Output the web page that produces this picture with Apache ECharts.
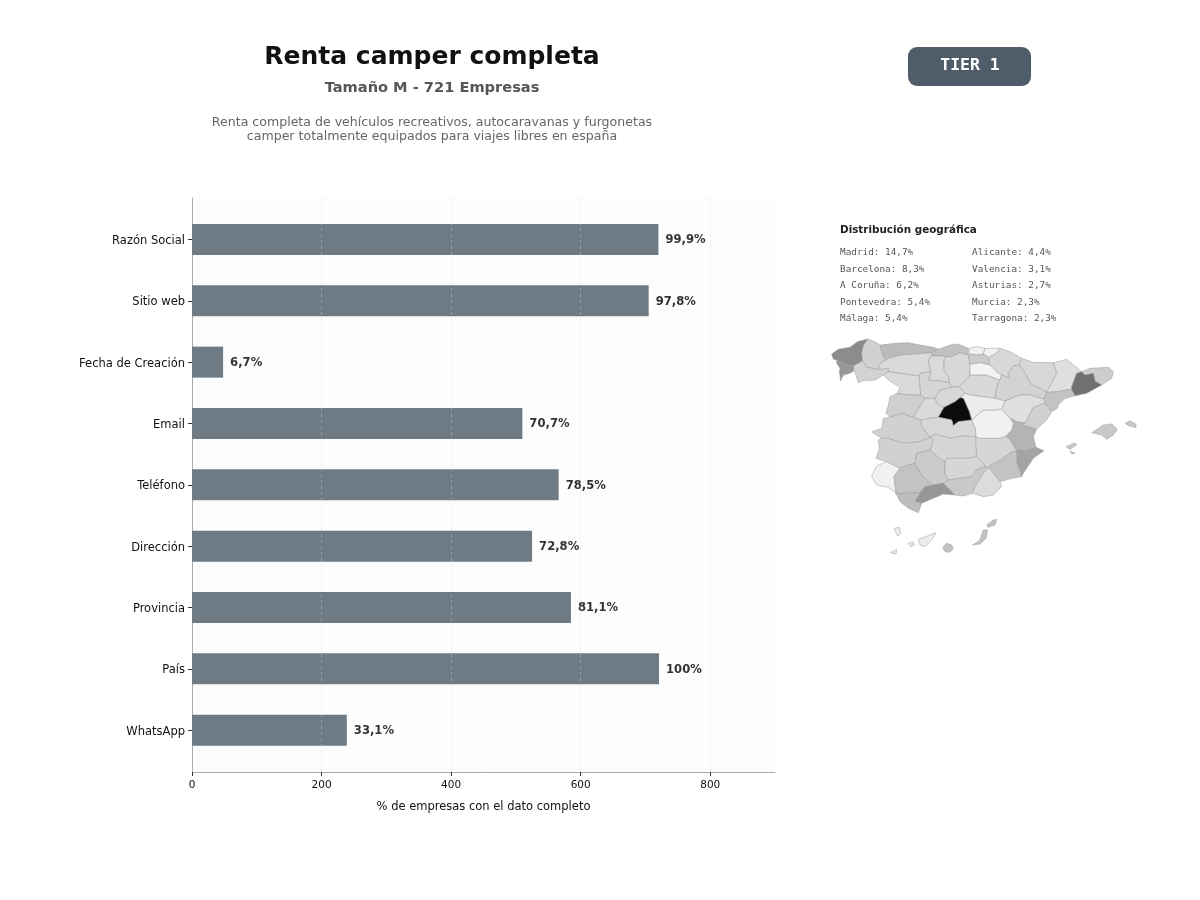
<!DOCTYPE html>
<html>
<head>
<meta charset="utf-8">
<title>Renta camper completa</title>
<script src="https://cdn.jsdelivr.net/npm/echarts@6/dist/echarts.min.js"></script>
<style>
  html, body { margin: 0; background: #fff; }
  #main { width: 1200px; height: 900px; }
</style>
</head>
<body>
<div id="main"></div>
<script>
var fieldNames = ['Razón Social', 'Sitio web', 'Fecha de Creación', 'Email', 'Teléfono', 'Dirección', 'Provincia', 'País', 'WhatsApp'];
var fieldCounts = [720, 705, 48, 510, 566, 525, 585, 721, 239];
var fieldLabels = ['99,9%', '97,8%', '6,7%', '70,7%', '78,5%', '72,8%', '81,1%', '100%', '33,1%'];
var xTicks = [0, 200, 400, 600, 800];

var geoLeft = ['Madrid: 14,7%', 'Barcelona: 8,3%', 'A Coruña: 6,2%', 'Pontevedra: 5,4%', 'Málaga: 5,4%'];
var geoRight = ['Alicante: 4,4%', 'Valencia: 3,1%', 'Asturias: 2,7%', 'Murcia: 2,3%', 'Tarragona: 2,3%'];

var provinceNames = ['Madrid', 'Barcelona', 'A Coruña', 'Pontevedra', 'Málaga', 'Alicante', 'Valencia', 'Asturias', 'Murcia', 'Tarragona',
  'Cádiz', 'Las Palmas', 'Sevilla', 'Baleares', 'Granada', 'Cantabria', 'Salamanca', 'Córdoba', 'Badajoz', 'Castellón',
  'Cáceres', 'Jaén', 'Toledo', 'Zaragoza', 'Girona', 'Álava', 'Lugo', 'Ciudad Real', 'Ourense', 'Albacete',
  'Valladolid', 'Huesca', 'Burgos', 'Soria', 'Segovia', 'Navarra', 'Palencia', 'Almería', 'León', 'Zamora',
  'Ávila', 'Lleida', 'Teruel', 'Guadalajara', 'Santa Cruz de Tenerife', 'Cuenca', 'Huelva', 'Vizcaya', 'Gipuzkoa', 'La Rioja'];
var provinceShares = [14.7, 8.3, 6.2, 5.4, 5.4, 4.4, 3.1, 2.7, 2.3, 2.3,
  2.6, 2.4, 2.3, 2.0, 2.0, 2.4, 1.7, 1.9, 1.6, 1.6,
  1.6, 1.4, 1.3, 1.5, 1.8, 1.9, 1.6, 1.4, 1.5, 1.4,
  1.4, 1.3, 1.3, 1.3, 1.3, 1.3, 1.2, 1.1, 1.2, 1.2,
  1.2, 1.0, 1.0, 0.4, 0.4, 0.2, 0.2, 0.2, 0.2, 0.1];

// hand traced province outlines, one list of rings per province
var provinceShapes = {
  'A Coruña': [[35,72,55,58,90,52,112,35,143,27,130,48,125,70,128,93,100,108,75,103,50,90,40,88]],
  'Pontevedra': [[50,90,75,103,100,108,102,122,90,130,70,135,62,153,58,125,60,115,50,100]],
  'Lugo': [[143,27,165,35,180,45,190,80,198,90,180,100,175,118,140,112,128,93,125,70,130,48]],
  'Asturias': [[180,45,225,40,265,38,300,45,340,52,355,58,335,68,290,72,245,75,205,85,198,90,190,80]],
  'Cantabria': [[355,58,390,45,415,42,445,55,445,75,420,68,395,80,378,80,365,78,335,78,335,68]],
  'Ourense': [[100,108,128,93,140,112,175,118,205,115,205,125,190,135,165,150,130,152,115,158,108,135,102,122]],
  'León': [[198,90,205,85,245,75,290,72,335,68,335,78,325,90,332,125,300,130,298,138,240,130,205,125,205,115,175,118,180,100]],
  'Palencia': [[335,78,365,78,378,80,372,90,372,120,385,140,388,158,350,152,325,150,332,125,325,90]],
  'Burgos': [[378,80,395,80,420,68,445,75,450,103,450,135,432,155,418,170,395,172,388,158,385,140,372,120,372,90]],
  'Zamora': [[190,135,205,125,240,130,298,138,302,195,265,195,232,190,240,172,205,150]],
  'Valladolid': [[298,138,300,130,332,125,325,150,350,152,388,158,395,172,360,180,345,205,315,205,302,195]],
  'Salamanca': [[210,200,232,190,265,195,302,195,315,205,300,230,280,262,245,250,210,262,198,250,205,225]],
  'Ávila': [[315,205,345,205,352,222,372,232,355,262,330,265,302,270,280,262,300,230]],
  'Segovia': [[345,205,360,180,395,172,418,170,435,190,420,203,405,215,372,232,352,222]],
  'Soria': [[432,155,450,135,500,135,540,150,535,155,530,175,525,205,490,200,450,195,435,190,418,170]],
  'Vizcaya': [[445,55,470,50,495,55,490,72,470,75,450,72]],
  'Gipuzkoa': [[495,55,540,55,530,70,505,82,490,72]],
  'Álava': [[450,72,470,75,490,72,505,82,510,105,480,98,450,103,445,75]],
  'La Rioja': [[450,103,480,98,510,105,530,125,545,135,540,150,500,135,450,135]],
  'Navarra': [[505,82,530,70,540,55,570,65,605,85,598,105,580,108,565,130,570,145,545,135,530,125,510,105]],
  'Huesca': [[605,85,640,97,700,98,710,130,695,160,680,187,650,170,635,165,615,130,598,105]],
  'Zaragoza': [[565,130,580,108,598,105,615,130,635,165,650,170,680,187,672,208,630,195,600,195,555,213,525,205,530,175,535,155,540,150,545,135,570,145]],
  'Lleida': [[700,98,740,88,785,125,770,130,755,170,755,180,750,178,715,185,680,187,695,160,710,130]],
  'Girona': [[785,125,810,115,865,112,880,125,875,145,845,165,825,153,820,130,795,135]],
  'Barcelona': [[785,125,795,135,820,130,825,153,845,165,800,190,765,197,755,180,755,170,770,130]],
  'Tarragona': [[755,180,765,197,735,205,715,225,712,235,695,245,675,220,672,208,680,187,715,185,750,178]],
  'Teruel': [[555,213,600,195,630,195,672,208,675,220,660,225,640,232,615,280,590,275,570,265,545,238]],
  'Castellón': [[640,232,660,225,675,220,695,245,680,270,650,298,625,290,605,285,615,280]],
  'Valencia': [[570,265,590,275,615,280,605,285,625,290,650,298,640,320,648,352,620,362,590,362,570,330,558,318,575,300,580,280]],
  'Alicante': [[590,362,620,362,648,352,672,362,640,385,610,430,605,440,590,395,590,372]],
  'Murcia': [[510,405,540,390,575,365,590,362,590,372,590,395,605,440,575,445,540,455,520,430,505,412]],
  'Albacete': [[467,320,480,325,540,325,558,318,570,330,590,362,575,365,540,390,510,405,505,412,495,410,490,400,470,380,467,340]],
  'Cuenca': [[455,270,490,240,520,240,545,238,570,265,580,280,575,300,558,318,540,325,480,325,467,320,467,300]],
  'Guadalajara': [[435,190,450,195,490,200,525,205,555,213,545,238,520,240,490,240,455,270,448,245,430,205,420,203]],
  'Madrid': [[420,203,430,205,448,245,455,270,440,272,415,275,400,287,395,270,355,262,372,232,405,215]],
  'Toledo': [[302,270,330,265,355,262,395,270,400,287,415,275,440,272,455,270,467,300,467,320,430,318,390,325,345,312,330,322,305,290]],
  'Ciudad Real': [[345,312,390,325,430,318,467,320,467,340,470,380,440,385,380,385,375,395,355,382,330,360,340,330,330,322]],
  'Cáceres': [[190,265,210,262,245,250,280,262,302,270,305,290,330,322,300,335,250,340,205,325,185,325,155,305,185,295]],
  'Badajoz': [[175,330,185,325,205,325,250,340,300,335,330,322,340,330,330,360,290,370,285,400,265,405,240,415,200,395,168,385,178,355]],
  'Huelva': [[170,408,200,395,240,415,222,440,228,490,205,472,170,465,155,440]],
  'Sevilla': [[240,415,265,405,285,400,305,437,340,465,315,470,300,488,260,490,228,490,222,440]],
  'Córdoba': [[290,370,330,360,355,382,375,395,375,430,385,450,370,460,340,465,305,437,285,400]],
  'Jaén': [[375,395,380,385,440,385,470,380,490,400,495,410,470,420,455,440,420,445,385,450,375,430]],
  'Granada': [[385,450,420,445,455,440,470,420,495,410,505,412,490,430,465,470,458,490,430,498,405,495,370,460]],
  'Almería': [[505,412,520,430,540,455,545,470,520,495,490,500,458,490,465,470,490,430]],
  'Málaga': [[315,470,340,465,370,460,405,495,370,492,340,505,305,520,285,515,300,488]],
  'Cádiz': [[228,490,260,490,300,488,285,515,305,520,295,548,265,535,240,515]],
  'Baleares': [[815,308,850,285,875,282,892,298,880,315,860,328,845,315], [915,280,930,272,948,283,948,293,925,287], [738,350,765,338,770,345,750,358], [750,362,765,370,755,372]],
  'Santa Cruz de Tenerife': [[222,595,238,592,242,610,233,618], [212,668,230,658,228,672], [265,640,278,635,283,645,272,650], [295,628,348,608,335,630,315,650,300,645]],
  'Las Palmas': [[368,652,380,640,395,645,400,655,390,667,375,665], [458,645,480,630,490,600,503,600,498,625,480,642], [500,585,520,570,530,568,525,585,505,592]]
};

function buildGeoJson() {
  var features = [];
  Object.keys(provinceShapes).forEach(function (name) {
    var polys = provinceShapes[name].map(function (flat) {
      var ring = [];
      for (var i = 0; i < flat.length; i += 2) ring.push([flat[i], -flat[i + 1]]);
      ring.push(ring[0]);
      return [ring];
    });
    features.push({ type: 'Feature', properties: { name: name }, geometry: { type: 'MultiPolygon', coordinates: polys } });
  });
  return { type: 'FeatureCollection', features: features };
}
echarts.registerMap('spain', buildGeoJson());

var font = 'DejaVu Sans';
var myChart = echarts.init(document.getElementById('main'), null, { renderer: 'canvas' });

function geoColumn(lines, x) {
  return lines.map(function (t, i) {
    return {
      type: 'text', x: x, y: 253 + i * 16.4,
      style: { text: t, font: '9.35px "DejaVu Sans Mono"', fill: '#555', textVerticalAlign: 'middle' }
    };
  });
}

myChart.setOption({
  backgroundColor: '#fff',
  animation: false,
  title: [
    { text: 'Renta camper completa', left: 432, top: 45, padding: 0, textAlign: 'center',
      textStyle: { fontFamily: font, fontSize: 25, fontWeight: 'bold', color: '#111' } },
    { text: 'Tamaño M - 721 Empresas', left: 432, top: 80.5, padding: 0, textAlign: 'center',
      textStyle: { fontFamily: font, fontSize: 14.6, fontWeight: 'bold', color: '#555' } },
    { text: 'Renta completa de vehículos recreativos, autocaravanas y furgonetas\ncamper totalmente equipados para viajes libres en españa', left: 432, top: 116, padding: 0, textAlign: 'center',
      textStyle: { fontFamily: font, fontSize: 12.57, fontWeight: 'normal', color: '#666', lineHeight: 14 } }
  ],
  grid: [
    { left: 192, top: 198, width: 583, height: 574, show: true, backgroundColor: '#fdfdfd', borderWidth: 0 },
    { left: 192, top: 208.8, width: 583, height: 552 },
    // same rows as the bars, a little lower: the tick labels sit just under the tick marks
    { left: 192, top: 210.3, width: 583, height: 552 }
  ],
  xAxis: [
    {
      type: 'value', gridIndex: 0, min: 0, max: 900, z: 5,
      name: '% de empresas con el dato completo', nameLocation: 'middle', nameGap: 29,
      nameTextStyle: { fontFamily: font, fontSize: 11.5, color: '#111' },
      axisLine: { show: true, onZero: false, lineStyle: { color: '#aaa', width: 1 } },
      axisTick: { show: true, length: 4, lineStyle: { color: '#333' }, customValues: xTicks },
      axisLabel: { fontFamily: font, fontSize: 10.5, color: '#111', margin: 8, customValues: xTicks },
      splitLine: { show: true, showMinLine: false, lineStyle: { color: 'rgba(205,210,215,0.4)', type: [3, 3], width: 1 } }
    },
    { type: 'value', gridIndex: 1, min: 0, max: 900, show: false },
    { type: 'value', gridIndex: 2, min: 0, max: 900, show: false }
  ],
  yAxis: [
    {
      type: 'value', gridIndex: 0, min: 0, max: 1,
      axisLine: { show: true, onZero: false, lineStyle: { color: '#aaa', width: 1 } },
      axisTick: { show: false }, axisLabel: { show: false }, splitLine: { show: false }
    },
    {
      type: 'category', gridIndex: 1, inverse: true, data: fieldNames,
      axisLine: { show: false },
      axisTick: { show: true, alignWithLabel: true, length: 4, lineStyle: { color: '#333' } },
      axisLabel: { show: false }
    },
    {
      type: 'category', gridIndex: 2, inverse: true, data: fieldNames,
      axisLine: { show: false }, axisTick: { show: false },
      axisLabel: { fontFamily: font, fontSize: 11.5, color: '#111', margin: 7 }
    }
  ],
  visualMap: {
    show: false, seriesIndex: 1, min: 0, max: 14.7,
    inRange: { color: ['#f5f5f5', '#d4d4d4', '#b6b6b6', '#a4a4a4', '#909090', '#7c7c7c', '#6a6a6a', '#525252', '#3c3c3c', '#242424', '#0c0c0c'] }
  },
  series: [
    {
      type: 'bar', xAxisIndex: 1, yAxisIndex: 1, data: fieldCounts, barWidth: 31,
      itemStyle: { color: '#6e7b85' },
      label: {
        show: true, position: 'right', distance: 7, offset: [0, 1],
        fontFamily: font, fontSize: 11.6, fontWeight: 'bold', color: '#333',
        formatter: function (p) { return fieldLabels[p.dataIndex]; }
      }
    },
    {
      type: 'map', map: 'spain', silent: true, aspectScale: 1, roam: false,
      left: 831.67, top: 339, width: 304.33, height: 215,
      label: { show: false },
      itemStyle: { borderColor: '#9a9a9a', borderWidth: 0.5 },
      data: provinceNames.map(function (n, i) { return { name: n, value: provinceShares[i] }; })
    }
  ],
  graphic: [
    { type: 'rect', shape: { x: 908, y: 47, width: 123, height: 39, r: 9 }, style: { fill: '#4f5d6b' } },
    { type: 'text', x: 970, y: 66, style: { text: 'TIER 1', font: 'bold 16.5px "DejaVu Sans Mono"', fill: '#fff', textAlign: 'center', textVerticalAlign: 'middle' } },
    { type: 'text', x: 840, y: 230.5, style: { text: 'Distribución geográfica', font: 'bold 10.4px "DejaVu Sans"', fill: '#222', textVerticalAlign: 'middle' } }
  ].concat(geoColumn(geoLeft, 840), geoColumn(geoRight, 972))
});
</script>
</body>
</html>
